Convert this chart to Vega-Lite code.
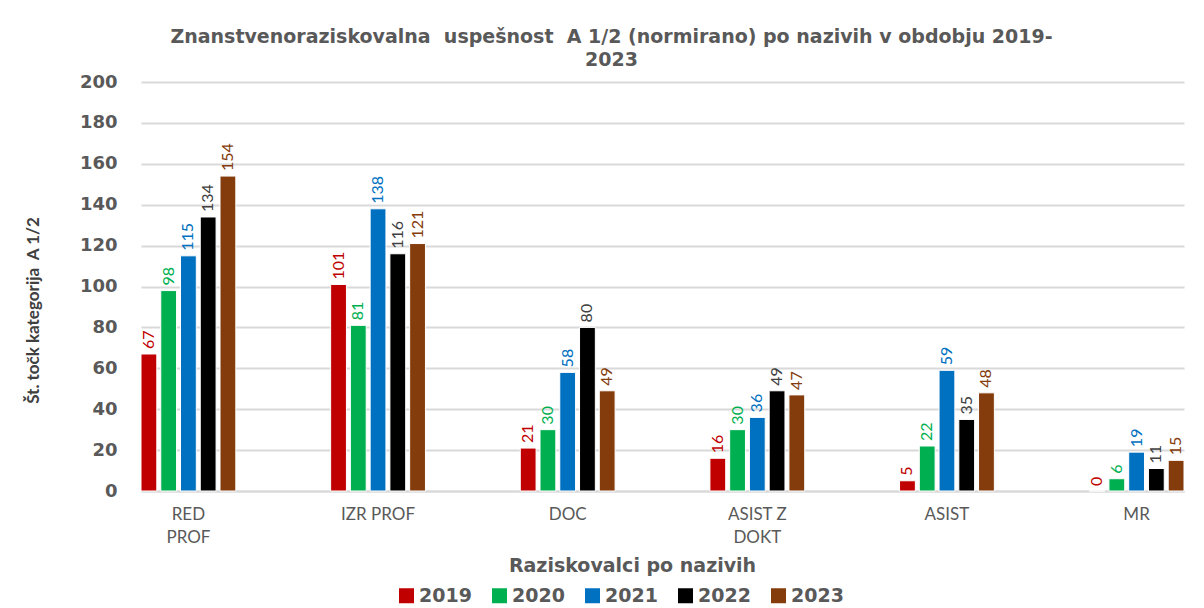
{
  "$schema": "https://vega.github.io/schema/vega-lite/v6.json",
  "autosize": {"type": "none"},
  "padding": {"left": 141, "top": 82, "right": 20, "bottom": 117},
  "width": 1043,
  "height": 409,
  "background": "white",
  "title": {
    "text": ["Znanstvenoraziskovalna\u00a0 uspešnost\u00a0 A 1/2 (normirano) po nazivih v obdobju 2019-", "2023"],
    "anchor": "middle",
    "frame": "group",
    "dx": -51,
    "offset": 3,
    "font": "DejaVu Sans",
    "fontSize": 19,
    "fontWeight": "bold",
    "color": "#595959",
    "lineHeight": 23
  },
  "data": {
    "values": [
      {"naziv": "RED PROF", "leto": "2019", "vrednost": 67},
      {"naziv": "RED PROF", "leto": "2020", "vrednost": 98},
      {"naziv": "RED PROF", "leto": "2021", "vrednost": 115},
      {"naziv": "RED PROF", "leto": "2022", "vrednost": 134},
      {"naziv": "RED PROF", "leto": "2023", "vrednost": 154},
      {"naziv": "IZR PROF", "leto": "2019", "vrednost": 101},
      {"naziv": "IZR PROF", "leto": "2020", "vrednost": 81},
      {"naziv": "IZR PROF", "leto": "2021", "vrednost": 138},
      {"naziv": "IZR PROF", "leto": "2022", "vrednost": 116},
      {"naziv": "IZR PROF", "leto": "2023", "vrednost": 121},
      {"naziv": "DOC", "leto": "2019", "vrednost": 21},
      {"naziv": "DOC", "leto": "2020", "vrednost": 30},
      {"naziv": "DOC", "leto": "2021", "vrednost": 58},
      {"naziv": "DOC", "leto": "2022", "vrednost": 80},
      {"naziv": "DOC", "leto": "2023", "vrednost": 49},
      {"naziv": "ASIST Z DOKT", "leto": "2019", "vrednost": 16},
      {"naziv": "ASIST Z DOKT", "leto": "2020", "vrednost": 30},
      {"naziv": "ASIST Z DOKT", "leto": "2021", "vrednost": 36},
      {"naziv": "ASIST Z DOKT", "leto": "2022", "vrednost": 49},
      {"naziv": "ASIST Z DOKT", "leto": "2023", "vrednost": 47},
      {"naziv": "ASIST", "leto": "2019", "vrednost": 5},
      {"naziv": "ASIST", "leto": "2020", "vrednost": 22},
      {"naziv": "ASIST", "leto": "2021", "vrednost": 59},
      {"naziv": "ASIST", "leto": "2022", "vrednost": 35},
      {"naziv": "ASIST", "leto": "2023", "vrednost": 48},
      {"naziv": "MR", "leto": "2019", "vrednost": 0},
      {"naziv": "MR", "leto": "2020", "vrednost": 6},
      {"naziv": "MR", "leto": "2021", "vrednost": 19},
      {"naziv": "MR", "leto": "2022", "vrednost": 11},
      {"naziv": "MR", "leto": "2023", "vrednost": 15}
    ]
  },
  "encoding": {
    "x": {
      "field": "naziv",
      "type": "nominal",
      "sort": ["RED PROF", "IZR PROF", "DOC", "ASIST Z DOKT", "ASIST", "MR"],
      "scale": {"paddingInner": 0.5, "paddingOuter": 0},
      "axis": {
        "title": "Raziskovalci po nazivih",
        "labelAngle": 0,
        "labelExpr": "datum.value == 'RED PROF' ? ['RED', 'PROF'] : datum.value == 'ASIST Z DOKT' ? ['ASIST Z', 'DOKT'] : datum.value",
        "labelFont": "Lato",
        "labelFontSize": 17,
        "labelColor": "#595959",
        "labelPadding": 15,
        "labelLineHeight": 23,
        "labelBaseline": "top",
        "ticks": false,
        "domainColor": "#D9D9D9",
        "domainWidth": 2,
        "titleFont": "DejaVu Sans",
        "titleFontSize": 19,
        "titleFontWeight": "bold",
        "titleColor": "#595959",
        "titleX": 491,
        "titleY": 74,
        "titleBaseline": "middle"
      }
    },
    "xOffset": {
      "field": "leto",
      "type": "nominal",
      "scale": {"paddingInner": 0.2}
    },
    "y": {
      "field": "vrednost",
      "type": "quantitative",
      "scale": {"domain": [0, 200], "nice": false},
      "axis": {
        "title": "Št. točk kategorija\u00a0 A 1/2",
        "values": [0, 20, 40, 60, 80, 100, 120, 140, 160, 180, 200],
        "labelFont": "DejaVu Sans",
        "labelFontSize": 18,
        "labelFontWeight": "bold",
        "labelColor": "#595959",
        "labelPadding": 24,
        "ticks": false,
        "domain": false,
        "gridColor": "#D9D9D9",
        "gridWidth": 2,
        "titleFont": "Lato",
        "titleFontSize": 17,
        "titleFontWeight": "bold",
        "titleColor": "#404040",
        "titleAngle": 270,
        "titleX": -108,
        "titleY": 228,
        "titleAlign": "center",
        "titleBaseline": "middle"
      }
    }
  },
  "layer": [
    {
      "mark": {"type": "bar", "stroke": "white", "strokeWidth": 1},
      "encoding": {
        "color": {
          "field": "leto",
          "type": "nominal",
          "scale": {
            "domain": ["2019", "2020", "2021", "2022", "2023"],
            "range": ["#C00000", "#00B050", "#0070C0", "#000000", "#843C0C"]
          },
          "legend": {
            "title": null,
            "orient": "none",
            "direction": "horizontal",
            "legendX": 256,
            "legendY": 504,
            "symbolType": "square",
            "symbolSize": 225,
            "symbolStrokeWidth": 0,
            "labelFont": "DejaVu Sans",
            "labelFontSize": 19,
            "labelFontWeight": "bold",
            "labelColor": "#595959",
            "labelOffset": 3,
            "columnPadding": 18
          }
        }
      }
    },
    {
      "mark": {"type": "text", "angle": 270, "align": "left", "baseline": "middle", "dx": 5, "font": "Lato", "fontSize": 16},
      "encoding": {
        "text": {"field": "vrednost", "type": "quantitative"},
        "color": {
          "field": "leto",
          "type": "nominal",
          "scale": {
            "domain": ["2019", "2020", "2021", "2022", "2023"],
            "range": ["#C00000", "#00B050", "#0070C0", "#404040", "#843C0C"]
          },
          "legend": null
        }
      }
    }
  ],
  "resolve": {"scale": {"color": "independent"}},
  "config": {"view": {"stroke": null}}
}
